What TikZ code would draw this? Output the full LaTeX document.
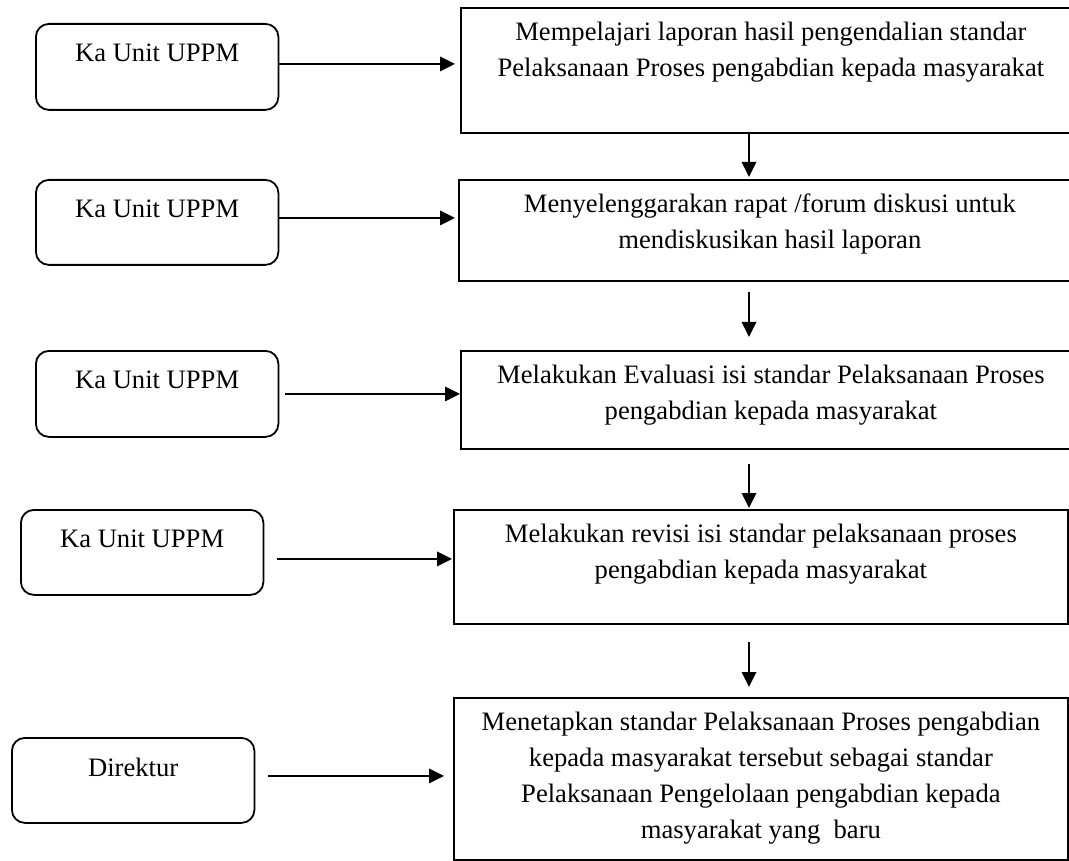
\documentclass[tikz,border=0pt]{standalone}
\usepackage{fontspec}
\setmainfont{Liberation Serif}
\usetikzlibrary{arrows.meta, positioning}

\tikzset{
	actor/.style={draw, line width=1.8pt, rounded corners=13pt, anchor=north west, inner sep=0pt, minimum width=242.5pt},
	task/.style={draw, line width=1.8pt, anchor=north west, inner sep=0pt},
	txt/.style={inner sep=0pt, align=center},
	flow/.style={line width=1.8pt, -{Triangle[length=15pt, width=14.5pt]}}
}

\begin{document}
\begin{tikzpicture}[x=1pt, y=-1pt, font=\fontsize{26.6}{35.8}\selectfont]
		\useasboundingbox (0,0) rectangle (1069,861);
		% who does it
		\node [actor, minimum height=86pt] (l1) at (35,23) {};
		\node [actor, minimum height=85pt] (l2) at (35,179) {};
		\node [actor, minimum height=86pt] (l3) at (35,350) {};
		\node [actor, minimum height=85pt] (l4) at (20,509) {};
		\node [actor, minimum height=85pt] (l5) at (11,737) {};
		\foreach \i in {1,2,3,4}{
			\node [txt, below=20.5pt of l\i.north] (k\i) {Ka Unit UPPM};
		}
		\node [txt, below=20.5pt of l5.north] (k5) {Direktur};
		% steps
		\node [task, minimum width=620pt, minimum height=125pt] (r1) at (460,7) {};
		\node [task, minimum width=622pt, minimum height=101pt] (r2) at (458,179) {};
		\node [task, minimum width=620pt, minimum height=98pt] (r3) at (460,350) {};
		\node [task, minimum width=614pt, minimum height=114pt] (r4) at (453,509) {};
		\node [task, minimum width=614pt, minimum height=162pt] (r5) at (453,697) {};
		\node [txt, below=15pt of r1.north] (t1) {Mempelajari laporan hasil pengendalian standar\\Pelaksanaan Proses pengabdian kepada masyarakat};
		\node [txt, below=15pt of r2.north] (t2) {Menyelenggarakan rapat /forum diskusi untuk\\mendiskusikan hasil laporan};
		\node [txt, below=15pt of r3.north] (t3) {Melakukan Evaluasi isi standar Pelaksanaan Proses\\pengabdian kepada masyarakat};
		\node [txt, below=15pt of r4.north] (t4) {Melakukan revisi isi standar pelaksanaan proses\\pengabdian kepada masyarakat};
		\node [txt, below=15pt of r5.north] (t5) {Menetapkan standar Pelaksanaan Proses pengabdian\\kepada masyarakat tersebut sebagai standar\\Pelaksanaan Pengelolaan pengabdian kepada\\masyarakat yang\ \ baru};
		% arrows
		\foreach \i/\dy/\ga/\gb in {1/3pt/0pt/5pt, 2/4.5pt/0pt/3pt, 3/0pt/5.5pt/0pt, 4/-6.5pt/13pt/1pt, 5/4.5pt/13pt/9pt}{
			\draw [flow, shorten <=\ga, shorten >=\gb] ([yshift=\dy]l\i.east) -- ([yshift=\dy]l\i.east -| r\i.west);
		}
		\coordinate (ax) at (749,0);
		\foreach \a/\b/\ga/\gb in {r1/r2/0pt/2pt, r2/r3/10pt/13pt, r3/r4/14pt/1pt, r4/r5/17pt/10pt}{
			\draw [flow, shorten <=\ga, shorten >=\gb] (\a.south -| ax) -- (\b.north -| ax);
		}
	\end{tikzpicture}
\end{document}
